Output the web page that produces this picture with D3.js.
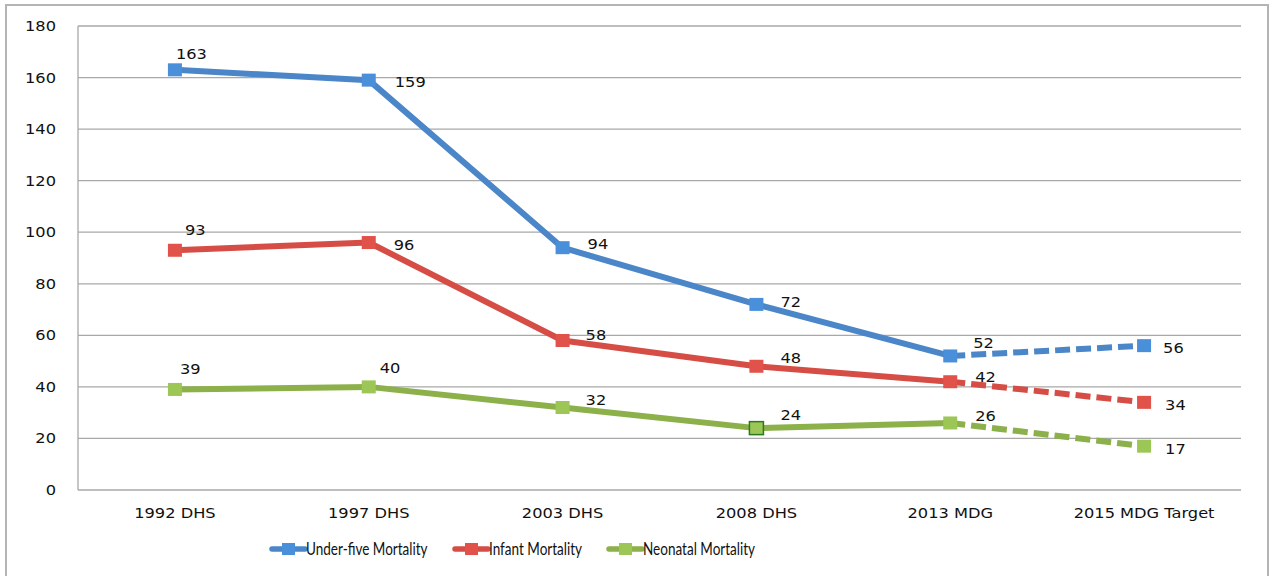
<!DOCTYPE html>
<head>
  <meta charset="utf-8">
</head>
<style>
body { margin: 0; background: #fff; }
.grid line { stroke: #a8a8a8; stroke-width: 1.3; }
.lbl { font-family: "DejaVu Sans", Verdana, sans-serif; font-size: 14.5px; fill: #111; }
.leg { font-family: Lato, "Open Sans", sans-serif; font-size: 16.5px; fill: #111; }
</style>
<body>
<script src="https://d3js.org/d3.v7.min.js"></script>
<script>
var width = 1271, height = 576;

var categories = ["1992 DHS", "1997 DHS", "2003 DHS", "2008 DHS", "2013 MDG", "2015 MDG Target"];
var underFive = [163, 159, 94, 72, 52, 56];
var infant = [93, 96, 58, 48, 42, 34];
var neonatal = [39, 40, 32, 24, 26, 17];
var yTicks = [0, 20, 40, 60, 80, 100, 120, 140, 160, 180];
var seriesNames = ["Under-five Mortality", "Infant Mortality", "Neonatal Mortality"];

// where each value label sits relative to its point (dx, dy of baseline)
var labelOffsets = [
  [[1, -11], [26, 7], [25, 1], [24, 3], [23, -8], [19, 7]],
  [[10, -15], [25, 7], [23, 0], [24, -3], [25, 0], [21, 8]],
  [[5, -15], [11, -14], [23, -3], [24, -8], [25, -2], [21, 8]]
];

var colours = ["#4a86c8", "#d64d45", "#8cb04a"];
var markerFill = ["#4a8fda", "#e0524a", "#9cc656"];
var xStretch = 1.12;

var svg = d3.select("body").append("svg")
  .attr("width", width)
  .attr("height", height);

// outer frame
svg.append("rect")
  .attr("x", 6).attr("y", 5)
  .attr("width", 1262).attr("height", 580)
  .attr("fill", "none")
  .attr("stroke", "#b4b4b4")
  .attr("stroke-width", 2);

var x = d3.scalePoint().domain(categories).range([78, 1241]).padding(0.5);
var y = d3.scaleLinear().domain([0, 180]).range([490, 26]);

function stretched(sel, k) {
  // the original picture is a little wider than tall, so text is stretched sideways
  sel.attr("transform", function() {
    var t = d3.select(this);
    return "translate(" + t.attr("data-x") + "," + t.attr("data-y") + ") scale(" + (k || xStretch) + ",1)";
  });
}

// gridlines
svg.append("g").attr("class", "grid")
  .selectAll("line")
  .data(yTicks)
  .enter().append("line")
  .attr("x1", 78).attr("x2", 1241)
  .attr("y1", function(d) { return y(d); })
  .attr("y2", function(d) { return y(d); });

svg.append("line")
  .attr("x1", 78).attr("x2", 78)
  .attr("y1", y(180)).attr("y2", y(0))
  .attr("stroke", "#a8a8a8").attr("stroke-width", 1.3);

// y tick labels
svg.append("g").selectAll("text")
  .data(yTicks)
  .enter().append("text")
  .attr("class", "lbl")
  .attr("text-anchor", "end")
  .attr("data-x", 56)
  .attr("data-y", function(d) { return y(d) + 5; })
  .text(function(d) { return d; })
  .call(stretched);

// x tick labels
svg.append("g").selectAll("text")
  .data(categories)
  .enter().append("text")
  .attr("class", "lbl")
  .attr("text-anchor", "middle")
  .attr("data-x", function(d) { return x(d); })
  .attr("data-y", 518)
  .text(function(d) { return d; })
  .call(stretched);

var allSeries = [underFive, infant, neonatal];

var line = d3.line()
  .x(function(d) { return x(d.cat); })
  .y(function(d) { return y(d.v); });

allSeries.forEach(function(vals, s) {
  var pts = vals.map(function(v, i) { return {cat: categories[i], v: v, i: i}; });
  var g = svg.append("g");

  g.append("path")
    .attr("d", line(pts.slice(0, 5)))
    .attr("fill", "none")
    .attr("stroke", colours[s])
    .attr("stroke-width", 6)
    .attr("stroke-linejoin", "round");

  g.append("path")
    .attr("d", line(pts.slice(4)))
    .attr("fill", "none")
    .attr("stroke", colours[s])
    .attr("stroke-width", 6)
    .attr("stroke-dasharray", "15,6");

  g.selectAll("rect")
    .data(pts)
    .enter().append("rect")
    .attr("x", function(d) { return x(d.cat) - 7; })
    .attr("y", function(d) { return y(d.v) - 6.5; })
    .attr("width", 14).attr("height", 13)
    .attr("fill", markerFill[s])
    .attr("stroke", function(d) { return (s == 2 && d.i == 3) ? "#2a7a1e" : "none"; })
    .attr("stroke-width", 1.5);

  g.selectAll("text")
    .data(pts)
    .enter().append("text")
    .attr("class", "lbl")
    .attr("data-x", function(d) { return x(d.cat) + labelOffsets[s][d.i][0]; })
    .attr("data-y", function(d) { return y(d.v) + labelOffsets[s][d.i][1]; })
    .text(function(d) { return d.v; })
    .call(stretched);
});

// legend
var legX = [272, 455, 609];
var leg = svg.append("g");
seriesNames.forEach(function(name, s) {
  leg.append("line")
    .attr("x1", legX[s]).attr("x2", legX[s] + 33)
    .attr("y1", 549).attr("y2", 549)
    .attr("stroke", colours[s]).attr("stroke-width", 5.5)
    .attr("stroke-linecap", "round");
  leg.append("rect")
    .attr("x", legX[s] + 10).attr("y", 543)
    .attr("width", 13).attr("height", 12)
    .attr("fill", markerFill[s]);
  leg.append("text")
    .attr("class", "leg")
    .attr("data-x", legX[s] + 34)
    .attr("data-y", 555)
    .text(name)
    .call(stretched, 0.82);
});
</script>
</body>
